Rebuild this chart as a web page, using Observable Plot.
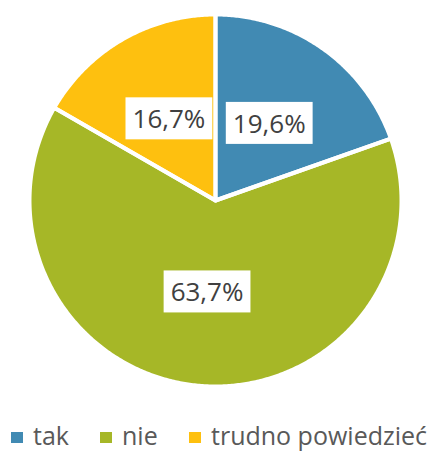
<!DOCTYPE html>
<html>
<head>
<meta charset="utf-8">
<script src="https://cdn.jsdelivr.net/npm/d3@7"></script>
<script src="https://cdn.jsdelivr.net/npm/@observablehq/plot@0.6"></script>
<style>
  html, body { margin: 0; padding: 0; background: #fff; }
  #chart { width: 435px; }
  .legend { position: relative; width: 435px; height: 42px; font-family: "Open Sans", sans-serif; font-size: 25px; color: #595959; }
  .legend .item { position: absolute; top: 14px; height: 22px; line-height: 22px; display: flex; align-items: center; white-space: nowrap; }
  .legend .sw { width: 12px; height: 11px; margin-right: 10px; margin-top: 4px; }
</style>
</head>
<body>
<div id="chart"></div>
<script>
const categories = ["tak", "nie", "trudno powiedzieć"];
const values = [19.6, 63.7, 16.7];
const labels = ["19,6%", "63,7%", "16,7%"];
const colors = ["#418AB3", "#A6B727", "#FEC00F"];
const legendLeft = [11, 100, 189];

const arcs = d3.pie().sort(null).value(d => d)(values);
const pts = [];
arcs.forEach((a, i) => {
  const cat = categories[i];
  pts.push({cat, x: 0, y: 0});
  const n = Math.max(2, Math.ceil((a.endAngle - a.startAngle) / (Math.PI / 360)));
  for (let k = 0; k <= n; k++) {
    const t = a.startAngle + (a.endAngle - a.startAngle) * k / n;
    pts.push({cat, x: Math.sin(t), y: Math.cos(t)});
  }
  pts.push({cat, x: 0, y: 0});
});
const labelData = arcs.map((a, i) => {
  const m = (a.startAngle + a.endAngle) / 2;
  return {cat: categories[i], label: labels[i], x: 0.5 * Math.sin(m), y: 0.5 * Math.cos(m)};
});

const plot = Plot.plot({
  width: 435,
  height: 410,
  marginLeft: 29, marginRight: 34, marginTop: 14, marginBottom: 24,
  x: {domain: [-1, 1], axis: null},
  y: {domain: [-1, 1], axis: null},
  color: {domain: categories, range: colors},
  style: {background: "#fff"},
  marks: [
    Plot.line(pts, {x: "x", y: "y", z: "cat", fill: "cat", stroke: null, curve: "linear"}),
    Plot.line(pts, {x: "x", y: "y", z: "cat", stroke: "white", strokeWidth: 4, strokeLinejoin: "round", fill: "none"}),
    Plot.text(labelData, {x: "x", y: "y", text: "label", fontSize: 26, fill: "#404040", fontFamily: "Open Sans"})
  ]
});
document.getElementById("chart").appendChild(plot);

// white boxes behind labels
plot.querySelectorAll('g[aria-label="text"] text').forEach(t => {
  const b = t.getBBox();
  const r = document.createElementNS("http://www.w3.org/2000/svg", "rect");
  const px = 7, py = 3;
  r.setAttribute("x", b.x - px);
  r.setAttribute("y", b.y - py);
  r.setAttribute("width", b.width + 2 * px);
  r.setAttribute("height", b.height + 2 * py);
  r.setAttribute("fill", "white");
  if (t.getAttribute("transform")) r.setAttribute("transform", t.getAttribute("transform"));
  t.parentNode.insertBefore(r, t);
});

const legend = document.createElement("div");
legend.className = "legend";
categories.forEach((c, i) => {
  const item = document.createElement("div");
  item.className = "item";
  item.style.left = legendLeft[i] + "px";
  const sw = document.createElement("span");
  sw.className = "sw";
  sw.style.background = colors[i];
  const tx = document.createElement("span");
  tx.textContent = c;
  item.appendChild(sw);
  item.appendChild(tx);
  legend.appendChild(item);
});
document.getElementById("chart").appendChild(legend);
</script>
</body>
</html>
